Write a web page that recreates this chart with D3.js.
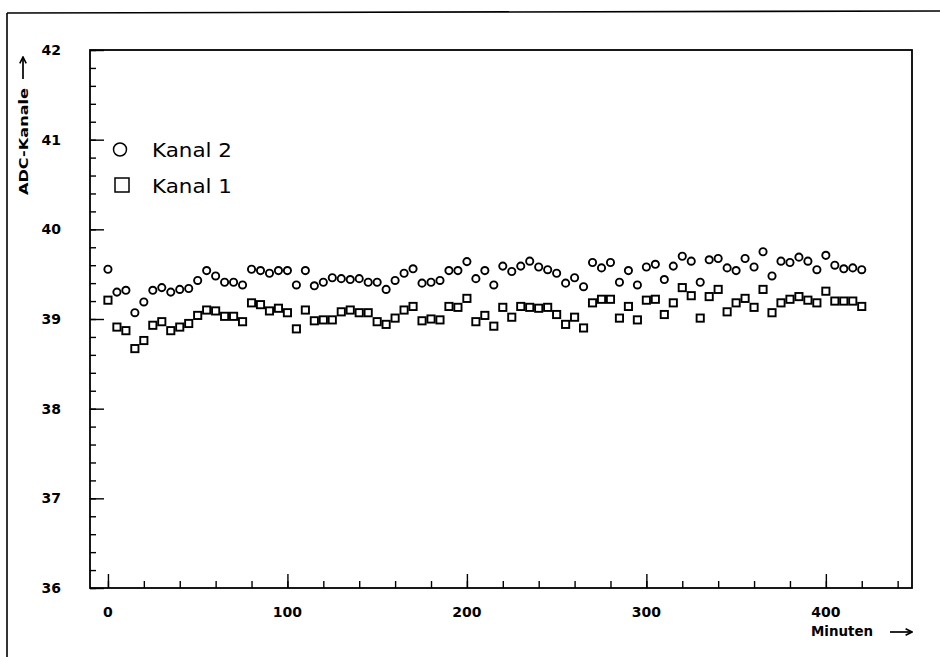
<!DOCTYPE html>
<html><head><meta charset="utf-8">
<script src="https://cdn.jsdelivr.net/npm/d3@7"></script>
<style>body{margin:0;background:#fff}svg{display:block}</style>
</head><body>
<svg id="c" width="940" height="657"></svg>
<script>
const minutes = d3.range(0, 421, 5);
const kanal2 = [39.555,39.30,39.32,39.07,39.19,39.32,39.35,39.30,39.33,39.34,39.43,39.54,39.48,39.41,39.41,39.38,39.555,39.54,39.51,39.54,39.54,39.38,39.54,39.37,39.41,39.46,39.45,39.44,39.45,39.41,39.41,39.33,39.43,39.51,39.56,39.40,39.41,39.43,39.54,39.54,39.64,39.45,39.54,39.38,39.59,39.53,39.59,39.645,39.58,39.55,39.51,39.40,39.46,39.36,39.63,39.57,39.63,39.41,39.54,39.38,39.58,39.61,39.44,39.59,39.70,39.645,39.41,39.66,39.675,39.57,39.54,39.675,39.58,39.75,39.48,39.645,39.63,39.69,39.645,39.55,39.71,39.60,39.56,39.57,39.55];
const kanal1 = [39.21,38.91,38.87,38.67,38.76,38.93,38.97,38.87,38.91,38.95,39.04,39.10,39.09,39.03,39.03,38.97,39.18,39.16,39.09,39.12,39.07,38.89,39.10,38.98,38.99,38.99,39.08,39.10,39.07,39.07,38.97,38.94,39.01,39.10,39.14,38.98,39.00,38.99,39.14,39.13,39.23,38.97,39.04,38.92,39.13,39.02,39.14,39.13,39.12,39.13,39.05,38.94,39.02,38.90,39.18,39.22,39.22,39.01,39.14,38.99,39.21,39.22,39.05,39.18,39.35,39.26,39.01,39.25,39.33,39.08,39.18,39.23,39.13,39.33,39.07,39.18,39.22,39.25,39.21,39.18,39.31,39.20,39.20,39.20,39.14];
const xTicks = [0, 100, 200, 300, 400];
const yTicks = [36, 37, 38, 39, 40, 41, 42];
const legendLabels = ["Kanal 2", "Kanal 1"];

const svg = d3.select("#c");
const x = d3.scaleLinear().domain([-10, 448]).range([90, 912]);
const y = d3.scaleLinear().domain([36, 42]).range([588, 50]);
const font = "DejaVu Sans, sans-serif";

// outer frame lines
svg.append("line").attr("x1",7).attr("y1",13).attr("x2",940).attr("y2",11).attr("stroke","#000").attr("stroke-width",1.6);
svg.append("line").attr("x1",7).attr("y1",13).attr("x2",7).attr("y2",657).attr("stroke","#000").attr("stroke-width",1.6);

// plot frame
svg.append("rect").attr("x",x(-10)).attr("y",y(42)).attr("width",x(448)-x(-10)).attr("height",y(36)-y(42))
  .attr("fill","none").attr("stroke","#000").attr("stroke-width",1.8);

// x axis ticks (inward)
const gx = svg.append("g").attr("transform",`translate(0,${y(36)})`);
gx.call(d3.axisTop(x).tickValues(d3.range(0,441,20)).tickSize(7).tickFormat(""));
gx.call(g=>g.select(".domain").remove());
gx.selectAll(".tick line").attr("stroke","#000").attr("stroke-width",1.4);
const gx2 = svg.append("g").attr("transform",`translate(0,${y(36)})`);
gx2.call(d3.axisTop(x).tickValues(xTicks).tickSize(14).tickFormat(""));
gx2.call(g=>g.select(".domain").remove());
gx2.selectAll(".tick line").attr("stroke","#000").attr("stroke-width",1.4);
svg.append("g").selectAll("text").data(xTicks).join("text")
  .attr("x",d=>x(d)).attr("y",y(36)+29).attr("text-anchor","middle")
  .attr("font-family",font).attr("font-weight","bold").attr("font-size",14).text(d=>d);

// y axis ticks (inward)
const gy = svg.append("g").attr("transform",`translate(${x(-10)},0)`);
gy.call(d3.axisRight(y).tickValues(d3.range(36,42.001,0.2)).tickSize(6).tickFormat(""));
gy.call(g=>g.select(".domain").remove());
gy.selectAll(".tick line").attr("stroke","#000").attr("stroke-width",1.4);
const gy2 = svg.append("g").attr("transform",`translate(${x(-10)},0)`);
gy2.call(d3.axisRight(y).tickValues(yTicks).tickSize(14).tickFormat(""));
gy2.call(g=>g.select(".domain").remove());
gy2.selectAll(".tick line").attr("stroke","#000").attr("stroke-width",1.4);
svg.append("g").selectAll("text").data(yTicks).join("text")
  .attr("x",61).attr("y",d=>y(d)+5).attr("text-anchor","end")
  .attr("font-family",font).attr("font-weight","bold").attr("font-size",14).text(d=>d);

// arrow marker
svg.append("defs").append("marker").attr("id","ah").attr("viewBox","0 0 10 10")
  .attr("refX",9).attr("refY",5).attr("markerWidth",8).attr("markerHeight",8).attr("markerUnits","userSpaceOnUse")
  .attr("orient","auto").append("path").attr("d","M1,1 L9,5 L1,9").attr("fill","none").attr("stroke","#000").attr("stroke-width",2);

// axis titles
svg.append("text").attr("transform","translate(28,195) rotate(-90)").attr("text-anchor","start")
  .attr("font-family",font).attr("font-weight","bold").attr("font-size",13)
  .attr("textLength",107).attr("lengthAdjust","spacingAndGlyphs").text("ADC-Kanale");
svg.append("line").attr("x1",23).attr("y1",79).attr("x2",23).attr("y2",57)
  .attr("stroke","#000").attr("stroke-width",1.7).attr("marker-end","url(#ah)");
svg.append("text").attr("x",811).attr("y",636).attr("text-anchor","start")
  .attr("font-family",font).attr("font-weight","bold").attr("font-size",13.5)
  .attr("textLength",62).attr("lengthAdjust","spacingAndGlyphs").text("Minuten");
svg.append("line").attr("x1",890).attr("y1",632).attr("x2",912).attr("y2",632)
  .attr("stroke","#000").attr("stroke-width",1.7).attr("marker-end","url(#ah)");

// data
const pts2 = minutes.map((m,i)=>({m, v:kanal2[i]}));
const pts1 = minutes.map((m,i)=>({m, v:kanal1[i]}));
svg.append("g").selectAll("rect").data(pts1).join("rect")
  .attr("x",d=>x(d.m)-3.6).attr("y",d=>y(d.v)-3.6).attr("width",7.2).attr("height",7.2)
  .attr("fill","none").attr("stroke","#000").attr("stroke-width",1.9);
svg.append("g").selectAll("circle").data(pts2).join("circle")
  .attr("cx",d=>x(d.m)).attr("cy",d=>y(d.v)).attr("r",3.6)
  .attr("fill","none").attr("stroke","#000").attr("stroke-width",1.9);

// legend
const lg = svg.append("g");
lg.append("circle").attr("cx",120).attr("cy",149.5).attr("r",6.5).attr("fill","none").attr("stroke","#000").attr("stroke-width",1.5);
lg.append("rect").attr("x",115).attr("y",178).attr("width",14).attr("height",14).attr("fill","none").attr("stroke","#000").attr("stroke-width",1.5);
lg.selectAll("text").data(legendLabels).join("text")
  .attr("x",152).attr("y",(d,i)=>157+i*36).attr("font-family",font).attr("font-size",19)
  .attr("textLength",80).attr("lengthAdjust","spacingAndGlyphs").text(d=>d);
</script>
</body></html>
